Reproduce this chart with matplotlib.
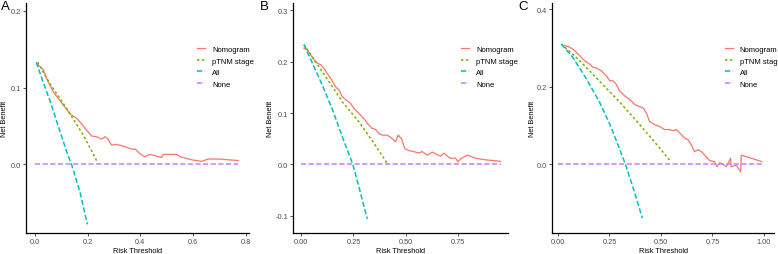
import matplotlib
matplotlib.use("Agg")
import matplotlib.pyplot as plt

plt.rcParams["font.family"] = ["Liberation Sans", "DejaVu Sans"]

# ---- panel A ----
a_nomo_x = [0.01, 0.032, 0.044, 0.07, 0.089, 0.108, 0.133, 0.158, 0.177, 0.19, 0.203, 0.215,
            0.234, 0.253, 0.266, 0.278, 0.291, 0.304, 0.323, 0.342, 0.367, 0.38, 0.399, 0.415,
            0.437, 0.481, 0.487, 0.538, 0.551, 0.595, 0.633, 0.658, 0.70, 0.772]
a_nomo_y = [0.130, 0.123, 0.112, 0.094, 0.086, 0.077, 0.066, 0.060, 0.053, 0.047, 0.042, 0.037,
            0.036, 0.033, 0.036, 0.033, 0.025, 0.026, 0.025, 0.023, 0.020, 0.020, 0.014, 0.010,
            0.013, 0.009, 0.013, 0.013, 0.010, 0.006, 0.004, 0.007, 0.007, 0.005]
a_tnm_x = [0.01, 0.057, 0.12, 0.184, 0.237]
a_tnm_y = [0.133, 0.105, 0.073, 0.038, 0.003]
a_all_x = [0.005, 0.03, 0.06, 0.095, 0.12, 0.139, 0.171, 0.199]
a_all_y = [0.133, 0.108, 0.080, 0.043, 0.017, 0.0, -0.036, -0.078]
a_none_x = [0.0, 0.772]

# ---- panel B ----
b_nomo_x = [0.013, 0.029, 0.045, 0.061, 0.077, 0.093, 0.109, 0.124, 0.14, 0.164, 0.18, 0.196,
            0.215, 0.236, 0.252, 0.276, 0.30, 0.324, 0.34, 0.356, 0.372, 0.388, 0.412, 0.436,
            0.452, 0.464, 0.48, 0.495, 0.515, 0.547, 0.563, 0.579, 0.603, 0.627, 0.667, 0.683,
            0.699, 0.715, 0.739, 0.75, 0.763, 0.795, 0.835, 0.882, 0.954]
b_nomo_y = [0.226, 0.223, 0.213, 0.204, 0.197, 0.194, 0.187, 0.177, 0.168, 0.151, 0.145, 0.132,
            0.125, 0.119, 0.109, 0.099, 0.089, 0.076, 0.070, 0.068, 0.060, 0.057, 0.057, 0.050,
            0.044, 0.057, 0.050, 0.031, 0.027, 0.024, 0.022, 0.025, 0.018, 0.024, 0.016, 0.022,
            0.016, 0.012, 0.012, 0.005, 0.011, 0.018, 0.012, 0.009, 0.006]
b_tnm_x = [0.013, 0.116, 0.2, 0.276, 0.35, 0.41]
b_tnm_y = [0.233, 0.171, 0.12, 0.083, 0.04, 0.003]
b_all_x = [0.013, 0.05, 0.1, 0.15, 0.2, 0.247, 0.28, 0.316]
b_all_y = [0.233, 0.200, 0.155, 0.106, 0.05, 0.0, -0.05, -0.106]
b_none_x = [0.0, 0.954]

# ---- panel C ----
c_nomo_x = [0.032, 0.057, 0.081, 0.105, 0.129, 0.154, 0.17, 0.186, 0.21, 0.235, 0.251, 0.267,
            0.283, 0.299, 0.324, 0.348, 0.372, 0.388, 0.413, 0.429, 0.445, 0.469, 0.494, 0.518,
            0.542, 0.558, 0.574, 0.599, 0.615, 0.631, 0.647, 0.663, 0.68, 0.696, 0.712, 0.736,
            0.761, 0.772, 0.785, 0.801, 0.817, 0.83, 0.838, 0.841, 0.866, 0.887, 0.89, 0.939, 0.99]
c_nomo_y = [0.306, 0.302, 0.293, 0.280, 0.267, 0.258, 0.250, 0.248, 0.241, 0.228, 0.215, 0.215,
            0.206, 0.189, 0.176, 0.167, 0.154, 0.150, 0.145, 0.132, 0.110, 0.102, 0.097, 0.089,
            0.089, 0.086, 0.089, 0.076, 0.067, 0.063, 0.050, 0.032, 0.037, 0.032, 0.023, 0.009,
            0.006, -0.007, 0.003, 0.0, -0.007, 0.006, 0.015, -0.007, -0.003, -0.020, 0.023, 0.015, 0.006]
c_tnm_x = [0.016, 0.1, 0.2, 0.3, 0.4, 0.48, 0.542]
c_tnm_y = [0.31, 0.27, 0.215, 0.16, 0.10, 0.05, 0.010]
c_all_x = [0.016, 0.07, 0.13, 0.2, 0.25, 0.3, 0.327, 0.37, 0.41]
c_all_y = [0.31, 0.277, 0.227, 0.162, 0.105, 0.038, 0.0, -0.07, -0.14]
c_none_x = [0.0, 0.99]

labels = ["Nomogram", "pTNM stage", "All", "None"]
colors = ["#F8766D", "#7CAE00", "#00BFC4", "#C77CFF"]

W, H = 778, 255
top_px, bot_px = 4, 234.3

panels = [
    dict(tag="A", nomo=(a_nomo_x, a_nomo_y), tnm=(a_tnm_x, a_tnm_y), all=(a_all_x, a_all_y),
         none=a_none_x, xlim=(-0.034, 0.814), ylim=(-0.0896, 0.21),
         xt=[0.0, 0.2, 0.4, 0.6, 0.8], xtl=["0.0", "0.2", "0.4", "0.6", "0.8"],
         yt=[0.0, 0.1, 0.2], ytl=["0.0", "0.1", "0.2"],
         x0=0, left=26, right=249.3, ylab=8.5, leg=197),
    dict(tag="B", nomo=(b_nomo_x, b_nomo_y), tnm=(b_tnm_x, b_tnm_y), all=(b_all_x, b_all_y),
         none=b_none_x, xlim=(-0.038, 0.991), ylim=(-0.134, 0.314),
         xt=[0.0, 0.25, 0.5, 0.75], xtl=["0.00", "0.25", "0.50", "0.75"],
         yt=[-0.1, 0.0, 0.1, 0.2, 0.3], ytl=["-0.1", "0.0", "0.1", "0.2", "0.3"],
         x0=259, left=293.3, right=508.3, ylab=274.2, leg=460.7),
    dict(tag="C", nomo=(c_nomo_x, c_nomo_y), tnm=(c_tnm_x, c_tnm_y), all=(c_all_x, c_all_y),
         none=c_none_x, xlim=(-0.0275, 1.049), ylim=(-0.179, 0.416),
         xt=[0.0, 0.25, 0.5, 0.75, 1.0], xtl=["0.00", "0.25", "0.50", "0.75", "1.00"],
         yt=[0.0, 0.2, 0.4], ytl=["0.0", "0.2", "0.4"],
         x0=518, left=552.3, right=774, ylab=535.5, leg=724.5),
]

fig = plt.figure(figsize=(W / 100, H / 100), dpi=100)
for p in panels:
    aw = p["right"] - p["left"]
    ax = fig.add_axes([p["left"] / W, (H - bot_px) / H, aw / W, (bot_px - top_px) / H])
    ax.plot(*p["nomo"], color=colors[0], lw=0.9, label=labels[0])
    ax.plot(*p["tnm"], color=colors[1], lw=1.1, dashes=(1.6, 1.6), label=labels[1])
    ax.plot(*p["all"], color=colors[2], lw=1.1, dashes=(3.4, 1.6), label=labels[2])
    ax.plot(p["none"], [0, 0], color=colors[3], lw=1.1, dashes=(3.4, 1.6), label=labels[3])
    ax.set_xlim(*p["xlim"])
    ax.set_ylim(*p["ylim"])
    ax.set_xticks(p["xt"], p["xtl"])
    ax.set_yticks(p["yt"], p["ytl"])
    for s in ["top", "right"]:
        ax.spines[s].set_visible(False)
    for s in ["left", "bottom"]:
        ax.spines[s].set_linewidth(0.9)
    ax.tick_params(length=2, width=0.6, color="#333333", labelsize=5.3,
                   labelcolor="#4D4D4D", pad=1.5)
    ax.set_xlabel("Risk Threshold", fontsize=5.3, labelpad=1.5)
    ax.set_ylabel("Net Benefit", fontsize=5.3)
    ax.yaxis.set_label_coords((p["ylab"] - p["left"]) / aw, 0.5)
    ax.legend(loc="upper left", bbox_to_anchor=((p["leg"] - p["left"]) / aw, 0.815),
              frameon=False, fontsize=5.5, handlelength=1.1, handletextpad=0.9,
              labelspacing=0.55, borderpad=0, borderaxespad=0)
    fig.text((p["x0"] + 0.5) / W, 0.998, p["tag"], fontsize=9.5, va="top", ha="left")

fig.savefig("out.png", dpi=100)
